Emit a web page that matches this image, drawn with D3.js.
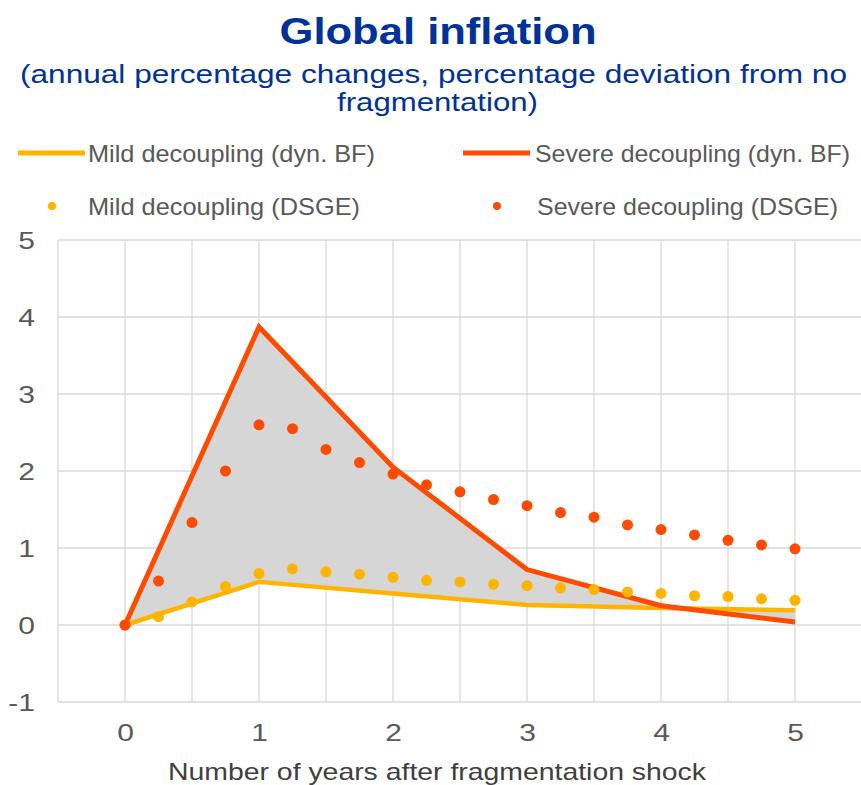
<!DOCTYPE html>
<html>
<head>
<meta charset="utf-8">
<script src="https://cdn.jsdelivr.net/npm/d3@7"></script>
<style>
  html, body { margin: 0; padding: 0; background: #fff; }
  svg { display: block; font-family: "Liberation Sans", Arial, sans-serif; }
</style>
</head>
<body>
<svg id="chart" width="861" height="785"></svg>
<script>
// ---- data ----
const years = [0, 1, 2, 3, 4, 5];
const mildBF = [0, 0.56, 0.41, 0.26, 0.22, 0.19];
const severeBF = [0, 3.87, 2.05, 0.72, 0.25, 0.04];

const quarters = [0, 0.25, 0.5, 0.75, 1, 1.25, 1.5, 1.75, 2, 2.25, 2.5, 2.75, 3, 3.25, 3.5, 3.75, 4, 4.25, 4.5, 4.75, 5];
const mildDSGE = [0, 0.11, 0.30, 0.50, 0.67, 0.73, 0.69, 0.66, 0.62, 0.58, 0.56, 0.53, 0.51, 0.48, 0.46, 0.43, 0.41, 0.38, 0.37, 0.34, 0.32];
const severeDSGE = [0, 0.57, 1.33, 2.00, 2.60, 2.55, 2.28, 2.11, 1.96, 1.82, 1.73, 1.63, 1.55, 1.46, 1.40, 1.30, 1.24, 1.17, 1.10, 1.04, 0.99];

const yTicks = [-1, 0, 1, 2, 3, 4, 5];
const xTicks = [0, 1, 2, 3, 4, 5];
const xGrid = [-0.5, 0, 0.5, 1, 1.5, 2, 2.5, 3, 3.5, 4, 4.5, 5, 5.5];

const seriesNames = {
  mildBF: "Mild decoupling (dyn. BF)",
  severeBF: "Severe decoupling (dyn. BF)",
  mildDSGE: "Mild decoupling (DSGE)",
  severeDSGE: "Severe decoupling (DSGE)"
};
const title = "Global inflation";
const subtitle1 = "(annual percentage changes, percentage deviation from no";
const subtitle2 = "fragmentation)";
const xTitle = "Number of years after fragmentation shock";

// ---- styles ----
const C_MILD = "#FFB400";
const C_SEVERE = "#FF4B00";
const C_TEXT = "#595959";
const C_TITLE = "#003299";
const C_GRID = "#d9d9d9";
const C_FILL = "#d6d6d6";
const STRETCH = 1.25;

const svg = d3.select("#chart");

const x = d3.scaleLinear().domain([-0.5, 5.5]).range([58, 862]);
const y = d3.scaleLinear().domain([-1, 5]).range([702, 240]);

function stretch(sel, factor) {
  sel.each(function () {
    const len = this.getComputedTextLength();
    d3.select(this).attr("textLength", len * factor).attr("lengthAdjust", "spacingAndGlyphs");
  });
}
const fmt = d => String(d); // plain hyphen-minus, as in the reference

// ---- titles ----
svg.append("text").attr("x", 438).attr("y", 44).attr("text-anchor", "middle")
  .attr("font-size", 36).attr("font-weight", "bold").attr("fill", C_TITLE)
  .attr("textLength", 317).attr("lengthAdjust", "spacingAndGlyphs").text(title);
svg.append("text").attr("x", 433.5).attr("y", 83).attr("text-anchor", "middle")
  .attr("font-size", 26).attr("fill", C_TITLE)
  .attr("textLength", 827).attr("lengthAdjust", "spacingAndGlyphs").text(subtitle1);
svg.append("text").attr("x", 437.5).attr("y", 111).attr("text-anchor", "middle")
  .attr("font-size", 26).attr("fill", C_TITLE)
  .attr("textLength", 201).attr("lengthAdjust", "spacingAndGlyphs").text(subtitle2);

// ---- legend ----
const legend = [
  { key: "mildBF", type: "line", color: C_MILD, sx: 18, tx: 88, ty: 153, w: 287 },
  { key: "severeBF", type: "line", color: C_SEVERE, sx: 463, tx: 535, ty: 153, w: 315 },
  { key: "mildDSGE", type: "dot", color: C_MILD, sx: 18, tx: 88, ty: 206, w: 272 },
  { key: "severeDSGE", type: "dot", color: C_SEVERE, sx: 463, tx: 537, ty: 206, w: 301 }
];
const lg = svg.append("g");
legend.forEach(d => {
  if (d.type === "line") {
    lg.append("line").attr("x1", d.sx).attr("x2", d.sx + 67).attr("y1", d.ty).attr("y2", d.ty)
      .attr("stroke", d.color).attr("stroke-width", 5);
  } else {
    lg.append("circle").attr("cx", d.sx + 34).attr("cy", d.ty).attr("r", 4).attr("fill", d.color);
  }
  lg.append("text").attr("x", d.tx).attr("y", d.ty + 8.5).attr("font-size", 24).attr("fill", C_TEXT)
    .attr("textLength", d.w).attr("lengthAdjust", "spacingAndGlyphs").text(seriesNames[d.key]);
});

// ---- grid ----
const grid = svg.append("g");
grid.selectAll("line.h").data(yTicks).join("line").attr("class", "h")
  .attr("x1", x(-0.5)).attr("x2", x(5.5)).attr("y1", d => y(d)).attr("y2", d => y(d))
  .attr("stroke", C_GRID).attr("stroke-width", 1.3);
grid.selectAll("line.v").data(xGrid).join("line").attr("class", "v")
  .attr("x1", d => x(d)).attr("x2", d => x(d)).attr("y1", y(5)).attr("y2", y(-1))
  .attr("stroke", C_GRID).attr("stroke-width", 1.3);

// ---- axes (labels only) ----
const yAxis = svg.append("g").attr("transform", "translate(35,0)")
  .call(d3.axisLeft(y).tickValues(yTicks).tickSize(0).tickPadding(0).tickFormat(fmt));
yAxis.select(".domain").remove();
yAxis.selectAll("text").attr("font-size", 24).attr("fill", C_TEXT).attr("font-family", "Liberation Sans, Arial, sans-serif").attr("dy", "0.36em");
stretch(yAxis.selectAll("text"), STRETCH);

const xAxis = svg.append("g").attr("transform", "translate(0,724)")
  .call(d3.axisBottom(x).tickValues(xTicks).tickSize(0).tickPadding(0).tickFormat(fmt));
xAxis.select(".domain").remove();
xAxis.selectAll("text").attr("font-size", 24).attr("fill", C_TEXT).attr("font-family", "Liberation Sans, Arial, sans-serif").attr("dy", "0.71em");
stretch(xAxis.selectAll("text"), STRETCH);

svg.append("text").attr("x", 437).attr("y", 780).attr("text-anchor", "middle")
  .attr("font-size", 24).attr("fill", "#404040")
  .attr("textLength", 538).attr("lengthAdjust", "spacingAndGlyphs").text(xTitle);

// ---- shaded area between BF lines ----
const bf = years.map((yr, i) => ({ yr, mild: mildBF[i], severe: severeBF[i] }));
svg.append("path").datum(bf)
  .attr("d", d3.area().x(d => x(d.yr)).y0(d => y(d.mild)).y1(d => y(d.severe)))
  .attr("fill", C_FILL);

// ---- lines ----
const lineGen = key => d3.line().x(d => x(d.yr)).y(d => y(d[key]));
svg.append("path").datum(bf).attr("d", lineGen("mild")).attr("fill", "none")
  .attr("stroke", C_MILD).attr("stroke-width", 4.5).attr("stroke-linejoin", "round");
svg.append("path").datum(bf).attr("d", lineGen("severe")).attr("fill", "none")
  .attr("stroke", C_SEVERE).attr("stroke-width", 5).attr("stroke-linejoin", "miter");

// ---- DSGE dots ----
const dsge = quarters.map((q, i) => ({ q, mild: mildDSGE[i], severe: severeDSGE[i] }));
svg.append("g").selectAll("circle").data(dsge).join("circle")
  .attr("cx", d => x(d.q)).attr("cy", d => y(d.mild)).attr("r", 5.5).attr("fill", C_MILD);
svg.append("g").selectAll("circle").data(dsge).join("circle")
  .attr("cx", d => x(d.q)).attr("cy", d => y(d.severe)).attr("r", 5.5).attr("fill", C_SEVERE);
</script>
</body>
</html>
